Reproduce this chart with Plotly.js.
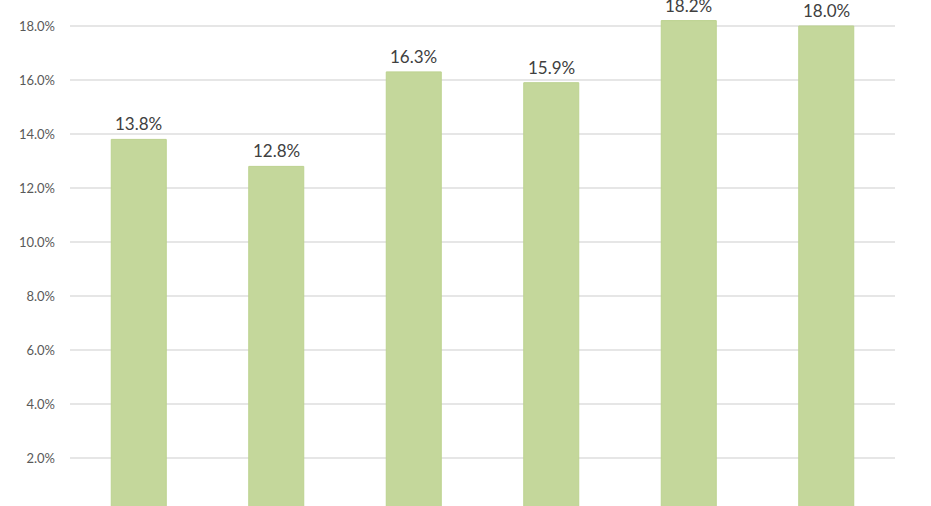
<!DOCTYPE html>
<html><head><meta charset="utf-8">
<script src="https://cdn.plot.ly/plotly-3.0.1.min.js"></script>
<style>html,body{margin:0;padding:0;background:#fff;}#chart{width:931px;height:506px;}</style>
</head><body><div id="chart"></div>
<script>
const categories = ["Cat 1", "Cat 2", "Cat 3", "Cat 4", "Cat 5", "Cat 6"];
const values = [13.8, 12.8, 16.3, 15.9, 18.2, 18.0];
const tickVals = [0, 2, 4, 6, 8, 10, 12, 14, 16, 18];
const tickText = ["0.0%", "2.0%", "4.0%", "6.0%", "8.0%", "10.0%", "12.0%", "14.0%", "16.0%", "18.0%"];

const trace = {
  type: "bar",
  x: categories,
  y: values,
  marker: {color: "#c4d79b", line: {color: "#bcd28f", width: 1}},
  hoverinfo: "none"
};

const annotations = categories.map((c, i) => ({
  x: c, y: values[i], xref: "x", yref: "y",
  text: values[i].toFixed(1) + "%",
  showarrow: false, yanchor: "bottom", yshift: 3,
  font: {family: "Lato, 'DejaVu Sans', sans-serif", size: 17, color: "#404040"}
}));

const layout = {
  width: 931, height: 506,
  margin: {l: 70, r: 36, t: 0, b: 0},
  paper_bgcolor: "#ffffff", plot_bgcolor: "#ffffff",
  bargap: 0.6,
  showlegend: false,
  annotations: annotations,
  xaxis: {showticklabels: false, showgrid: false, zeroline: false, showline: false, ticks: ""},
  yaxis: {
    range: [0.222, 18.963],
    tickvals: tickVals, ticktext: tickText,
    tickfont: {family: "Lato, 'DejaVu Sans', sans-serif", size: 13, color: "#595959"},
    showgrid: true, gridcolor: "#e6e6e6", gridwidth: 1.5,
    zeroline: false, showline: false, ticks: "",
    ticklabelstandoff: 14
  }
};
Plotly.newPlot("chart", [trace], layout, {displayModeBar: false, staticPlot: true});
</script></body></html>
